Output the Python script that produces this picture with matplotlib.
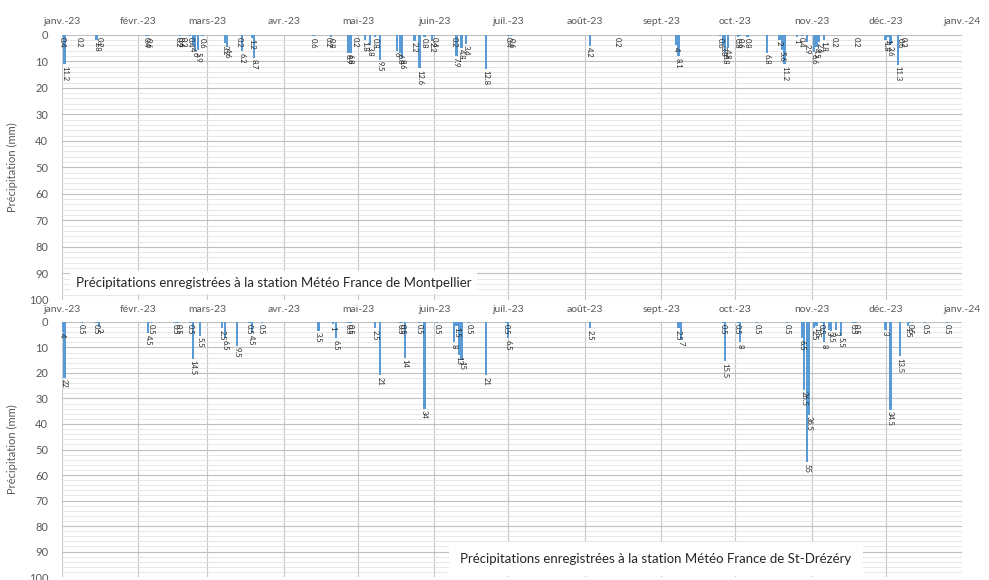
import pandas as pd
import matplotlib.pyplot as plt
import matplotlib.dates as mdates
from matplotlib.ticker import MultipleLocator

plt.rcParams['font.family'] = ['Lato', 'DejaVu Sans']

# Montpellier daily rain (mm), days with rain only
mtp_dates = ['2023-01-01', '2023-01-02', '2023-01-08', '2023-01-15', '2023-01-16',
             '2023-02-04', '2023-02-05', '2023-02-17', '2023-02-18', '2023-02-19',
             '2023-02-22', '2023-02-23', '2023-02-24', '2023-02-25', '2023-02-27',
             '2023-03-08', '2023-03-09', '2023-03-14', '2023-03-15', '2023-03-19', '2023-03-20',
             '2023-04-13', '2023-04-19', '2023-04-20', '2023-04-27', '2023-04-28', '2023-04-30',
             '2023-05-04', '2023-05-06', '2023-05-08', '2023-05-10', '2023-05-17', '2023-05-18',
             '2023-05-19', '2023-05-24', '2023-05-26', '2023-05-28', '2023-05-31', '2023-06-01',
             '2023-06-09', '2023-06-10', '2023-06-12', '2023-06-14', '2023-06-22',
             '2023-07-01', '2023-07-02', '2023-08-03', '2023-08-14', '2023-09-07', '2023-09-08',
             '2023-09-25', '2023-09-26', '2023-09-27', '2023-09-28', '2023-10-02', '2023-10-03',
             '2023-10-06', '2023-10-14', '2023-10-19', '2023-10-20', '2023-10-21',
             '2023-10-26', '2023-10-28', '2023-10-30', '2023-11-02', '2023-11-03',
             '2023-11-04', '2023-11-06', '2023-11-10', '2023-11-19',
             '2023-12-01', '2023-12-02', '2023-12-03', '2023-12-06', '2023-12-07', '2023-12-08']
mtp_vals = [0.4, 11.2, 0.2, 1.8, 0.2,
            0.4, 0.6, 0.2, 0.4, 0.2,
            0.4, 4, 6, 5.9, 0.6,
            3.2, 4.6, 0.2, 6.2, 1.2, 8.7,
            0.6, 0.2, 0.8, 6.9, 6.8, 0.2,
            1.8, 3.8, 0.8, 9.5, 6, 6.8,
            8.6, 2.2, 12.6, 0.8, 2.2, 0.4,
            0.2, 7.9, 4.8, 3.4, 12.8,
            0.4, 0.6, 4.2, 0.2, 4, 8.1,
            0.6, 3.8, 6.8, 4.8, 0.8, 0.6,
            0.8, 6.8, 2, 5.6, 11.2,
            1, 0.4, 2.9, 6.6, 4.5,
            2.6, 1.8, 0.2, 0.2,
            1.8, 1, 3.6, 11.3, 0.6, 0.2]

# St-Drezery daily rain (mm)
std_dates = ['2023-01-01', '2023-01-02', '2023-01-09', '2023-01-15', '2023-01-16',
             '2023-02-05', '2023-02-06', '2023-02-16', '2023-02-17', '2023-02-22',
             '2023-02-23', '2023-02-26', '2023-03-07', '2023-03-08', '2023-03-13',
             '2023-03-18', '2023-03-19', '2023-03-23', '2023-04-15', '2023-04-21', '2023-04-22',
             '2023-04-27', '2023-04-28', '2023-05-08', '2023-05-10', '2023-05-18', '2023-05-19',
             '2023-05-20', '2023-05-26', '2023-05-28', '2023-06-02', '2023-06-09', '2023-06-10',
             '2023-06-11', '2023-06-12', '2023-06-15', '2023-06-22', '2023-06-30', '2023-07-01',
             '2023-08-03', '2023-09-08', '2023-09-09', '2023-09-26', '2023-09-27',
             '2023-10-02', '2023-10-03', '2023-10-10', '2023-10-22', '2023-10-28', '2023-10-29',
             '2023-10-30', '2023-10-31', '2023-11-02', '2023-11-03', '2023-11-05', '2023-11-06',
             '2023-11-08', '2023-11-09', '2023-11-11', '2023-11-13', '2023-11-18', '2023-11-19',
             '2023-12-01', '2023-12-03', '2023-12-07', '2023-12-10', '2023-12-11',
             '2023-12-17', '2023-12-26']
std_vals = [4, 22, 0.5, 0.5, 2,
            4.5, 0.5, 0.5, 0.5, 0.5,
            14.5, 5.5, 2.5, 6.5, 9.5,
            0.5, 4.5, 0.5, 3.5, 1, 6.5,
            0.5, 0.5, 2.5, 21, 0.5, 0.5,
            14, 0.5, 34, 0.5, 8, 1.5,
            13, 15, 0.5, 21, 0.5, 6.5,
            2.5, 2.5, 7, 0.5, 15.5,
            0.5, 8, 0.5, 0.5, 6.5, 26.5,
            55, 36.5, 2.5, 1.5, 0.5, 8,
            3, 3.5, 3, 5.5, 0.5, 0.5,
            3, 34.5, 13.5, 1.5, 0.5,
            0.5, 0.5]

month_starts = pd.date_range('2023-01-01', '2024-01-01', freq='MS')
month_labels = ['janv.-23', 'févr.-23', 'mars-23', 'avr.-23', 'mai-23', 'juin-23',
                'juil.-23', 'août-23', 'sept.-23', 'oct.-23', 'nov.-23', 'déc.-23', 'janv.-24']

titles = ['Précipitations enregistrées à la station Météo France de Montpellier',
          'Précipitations enregistrées à la station Météo France de St-Drézéry']

fig = plt.figure(figsize=(9.89, 5.8), dpi=100)
ax1 = fig.add_axes([0.0627, 0.483, 0.910, 0.457])
ax2 = fig.add_axes([0.0627, 0.005, 0.910, 0.440])

grey = '#595959'
for ax, dates, vals, title in [(ax1, mtp_dates, mtp_vals, titles[0]),
                               (ax2, std_dates, std_vals, titles[1])]:
    x = pd.to_datetime(dates)
    ax.bar(x, vals, width=0.9, color='#5b9bd5', zorder=3)
    for xi, v in zip(x, vals):
        lab = ('%g' % v).replace('.', ',') if False else '%g' % v
        ax.text(xi, v + 0.5, lab, rotation=-90, ha='center', va='top',
                fontsize=5.5, color='#262626', zorder=4)
    ax.set_ylim(100, 0)
    ax.set_xlim(month_starts[0], month_starts[-1])
    ax.yaxis.set_major_locator(MultipleLocator(10))
    ax.yaxis.set_minor_locator(MultipleLocator(2))
    ax.set_xticks(month_starts)
    ax.set_xticklabels(month_labels)
    ax.xaxis.tick_top()
    ax.tick_params(axis='x', length=0, labelsize=7.5, colors=grey, pad=6)
    ax.tick_params(axis='y', which='both', length=0, labelsize=8, colors=grey, pad=10)
    ax.grid(axis='y', which='major', color='#bfbfbf', lw=0.8, zorder=0)
    ax.grid(axis='y', which='minor', color='#e3e3e3', lw=0.6, zorder=0)
    ax.grid(axis='x', which='major', color='#c8c8c8', lw=0.8, zorder=0)
    for s in ax.spines.values():
        s.set_visible(False)
    ax.set_ylabel('Précipitation (mm)', fontsize=8, color=grey, labelpad=8)

ax1.text(0.015, 0.065, titles[0], transform=ax1.transAxes, fontsize=9.5, color='#262626',
         ha='left', va='center', zorder=5,
         bbox=dict(facecolor='white', edgecolor='none', pad=4))
ax2.text(0.66, 0.07, titles[1], transform=ax2.transAxes, fontsize=9.5, color='#262626',
         ha='center', va='center', zorder=5, fontstretch='condensed',
         bbox=dict(facecolor='white', edgecolor='none', pad=8))

fig.savefig('out.png', dpi=100)
